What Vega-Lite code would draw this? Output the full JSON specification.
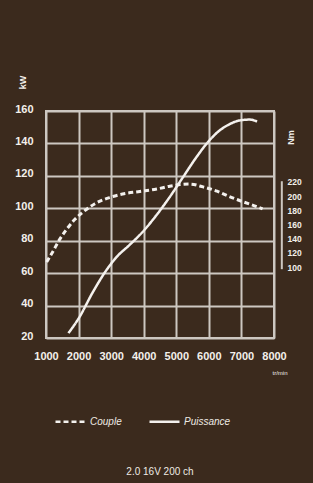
{
  "$schema": "https://vega.github.io/schema/vega-lite/v6.json",
  "width": 228,
  "height": 227,
  "autosize": {"type": "none"},
  "padding": {"left": 46, "top": 111, "right": 39, "bottom": 145},
  "background": "#3b2a1d",
  "config": {
    "view": {"stroke": "#cdc7c1", "strokeWidth": 2},
    "font": "Liberation Sans",
    "axis": {"labelColor": "#f3f0eb", "titleColor": "#f3f0eb", "gridColor": "#cdc7c1", "gridWidth": 2, "gridOpacity": 1, "domain": false, "ticks": false, "tickSize": 0, "labelFont": "Liberation Sans Narrow, Liberation Sans, sans-serif", "labelFontWeight": "bold", "labelOverlap": false}
  },
  "datasets": {
    "power": [
      {"rpm": 1690, "kw": 23, "serie": "Puissance"},
      {"rpm": 2030, "kw": 33, "serie": "Puissance"},
      {"rpm": 2430, "kw": 48, "serie": "Puissance"},
      {"rpm": 2860, "kw": 62, "serie": "Puissance"},
      {"rpm": 3170, "kw": 70, "serie": "Puissance"},
      {"rpm": 3570, "kw": 77.5, "serie": "Puissance"},
      {"rpm": 3970, "kw": 85.5, "serie": "Puissance"},
      {"rpm": 4400, "kw": 96, "serie": "Puissance"},
      {"rpm": 4800, "kw": 107, "serie": "Puissance"},
      {"rpm": 5200, "kw": 119, "serie": "Puissance"},
      {"rpm": 5600, "kw": 131, "serie": "Puissance"},
      {"rpm": 6000, "kw": 141.5, "serie": "Puissance"},
      {"rpm": 6300, "kw": 147.5, "serie": "Puissance"},
      {"rpm": 6650, "kw": 152, "serie": "Puissance"},
      {"rpm": 6950, "kw": 154.2, "serie": "Puissance"},
      {"rpm": 7260, "kw": 154.7, "serie": "Puissance"},
      {"rpm": 7480, "kw": 153.5, "serie": "Puissance"}
    ],
    "torque": [
      {"rpm": 1020, "nm": 107, "serie": "Couple"},
      {"rpm": 1200, "nm": 121, "serie": "Couple"},
      {"rpm": 1420, "nm": 139, "serie": "Couple"},
      {"rpm": 1630, "nm": 153, "serie": "Couple"},
      {"rpm": 1880, "nm": 167, "serie": "Couple"},
      {"rpm": 2120, "nm": 177, "serie": "Couple"},
      {"rpm": 2490, "nm": 189, "serie": "Couple"},
      {"rpm": 2950, "nm": 198, "serie": "Couple"},
      {"rpm": 3350, "nm": 203, "serie": "Couple"},
      {"rpm": 3880, "nm": 206.5, "serie": "Couple"},
      {"rpm": 4400, "nm": 210, "serie": "Couple"},
      {"rpm": 4800, "nm": 214, "serie": "Couple"},
      {"rpm": 5420, "nm": 217, "serie": "Couple"},
      {"rpm": 5820, "nm": 213, "serie": "Couple"},
      {"rpm": 6250, "nm": 207, "serie": "Couple"},
      {"rpm": 6650, "nm": 199, "serie": "Couple"},
      {"rpm": 7050, "nm": 192, "serie": "Couple"},
      {"rpm": 7480, "nm": 185, "serie": "Couple"},
      {"rpm": 7650, "nm": 182, "serie": "Couple"}
    ],
    "bar": [{"rpm": 8240, "nm": 97, "hi": 221}]
  },
  "title": {"text": "2.0 16V 200 ch", "orient": "bottom", "anchor": "middle", "frame": "group", "fontSize": 10, "fontWeight": "normal", "color": "#eeeae4", "offset": 40},
  "encoding": {
    "x": {"field": "rpm", "type": "quantitative", "scale": {"domain": [1000, 8000], "nice": false},
      "axis": {"values": [1000, 2000, 3000, 4000, 5000, 6000, 7000, 8000], "format": "d", "grid": true, "labelFontSize": 11, "labelPadding": 12, "labelFlush": false, "labelOverlap": false,
        "title": "tr/min", "titleFontSize": 6, "titleFontWeight": "normal", "titleAnchor": "end", "titleAlign": "right", "titleX": 241, "titleY": 31}}
  },
  "layer": [
    {
      "data": {"name": "power"},
      "mark": {"type": "line", "color": "#f4f1ee", "strokeWidth": 2.5, "interpolate": "monotone"},
      "encoding": {
        "y": {"field": "kw", "type": "quantitative", "scale": {"domain": [20, 160], "nice": false},
          "axis": {"values": [20, 40, 60, 80, 100, 120, 140, 160], "grid": true, "labelFontSize": 11, "labelPadding": 13, "labelOffset": -2,
            "title": "kW", "titleFontSize": 9, "titleFontWeight": "bold", "titleAngle": 270, "titleX": -24, "titleY": -29, "titleAlign": "center", "titleBaseline": "middle"}},
        "strokeDash": {"field": "serie", "type": "nominal", "scale": {"domain": ["Couple", "Puissance"], "range": [[5, 3], [1, 0]]},
          "legend": {"orient": "none", "legendX": 8, "legendY": 294, "direction": "horizontal", "title": null, "symbolType": "stroke", "symbolSize": 900, "symbolStrokeWidth": 2.5, "symbolStrokeColor": "#f4f1ee", "labelColor": "#eeeae4", "labelFontSize": 10, "labelFontStyle": "italic", "labelOffset": 3, "columnPadding": 22, "padding": 0}}
      }
    },
    {
      "encoding": {
        "y": {"field": "nm", "type": "quantitative", "scale": {"domain": [0, 320], "nice": false},
          "axis": {"orient": "right", "values": [100, 120, 140, 160, 180, 200, 220], "grid": false, "labelFontSize": 8.5, "labelPadding": 13, "labelOverlap": false,
            "title": "Nm", "titleFontSize": 9, "titleFontWeight": "bold", "titleAngle": 270, "titleX": 16, "titleY": 26, "titleAlign": "center", "titleBaseline": "middle"}}
      },
      "layer": [
        {
          "data": {"name": "torque"},
          "mark": {"type": "line", "color": "#f4f1ee", "strokeWidth": 3, "interpolate": "monotone"},
          "encoding": {
            "strokeDash": {"field": "serie", "type": "nominal"}
          }
        },
        {
          "data": {"name": "bar"},
          "mark": {"type": "rule", "color": "#cdc7c1", "strokeWidth": 2},
          "encoding": {
            "y2": {"field": "hi"}
          }
        }
      ]
    }
  ],
  "resolve": {"scale": {"y": "independent"}}
}
